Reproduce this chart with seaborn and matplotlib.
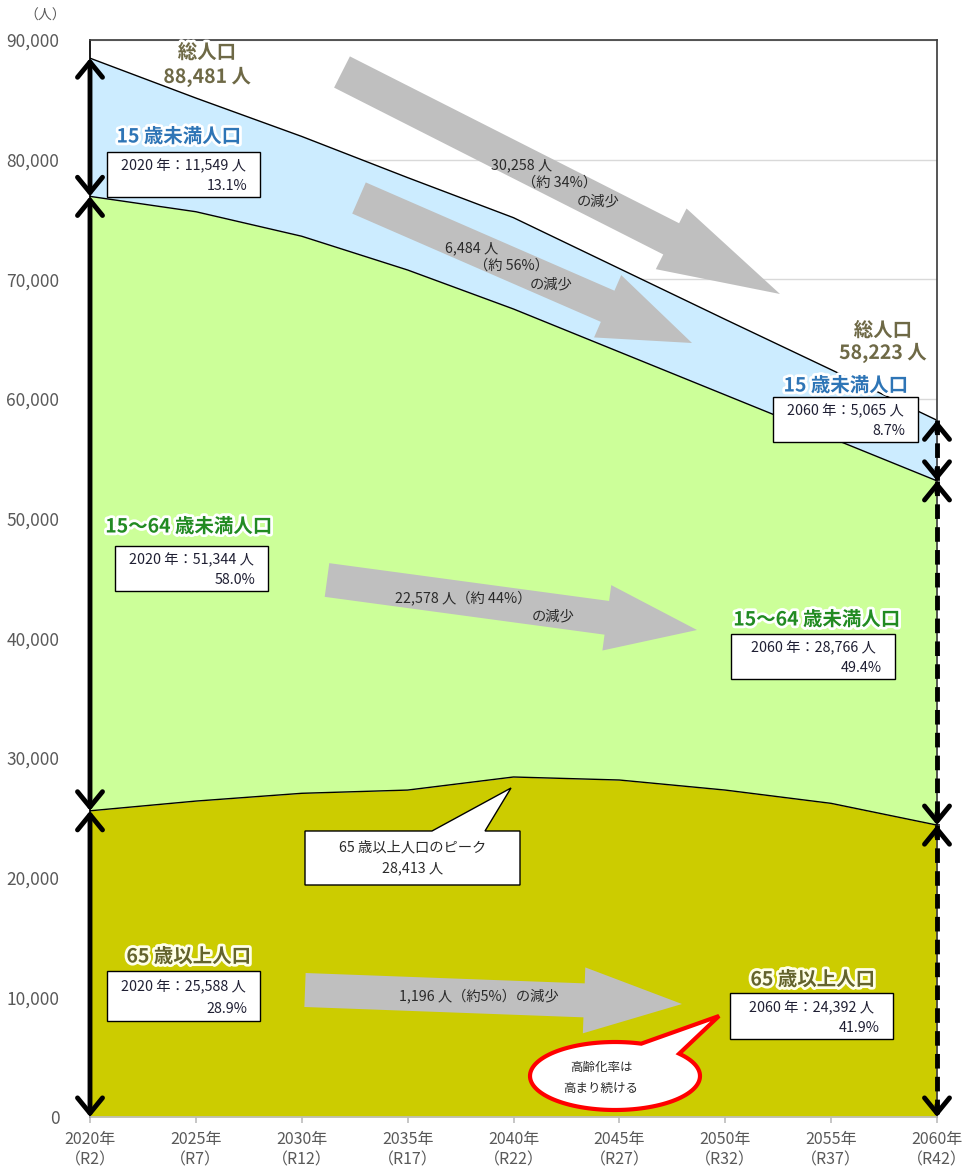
import numpy as np
import pandas as pd
import matplotlib
matplotlib.use("Agg")
import matplotlib.pyplot as plt
import matplotlib.patheffects as pe
from matplotlib.patches import Polygon, Rectangle
import seaborn as sns

# 年次と年齢3区分別人口
years = [2020, 2025, 2030, 2035, 2040, 2045, 2050, 2055, 2060]
pop_u15 = [11549, 9500, 8340, 7720, 7630, 6970, 6310, 5700, 5065]
pop_15_64 = [51344, 49250, 46550, 43460, 39107, 35770, 33020, 30540, 28766]
pop_65 = [25588, 26400, 27050, 27320, 28413, 28160, 27320, 26210, 24392]
y_ticks = list(range(0, 90001, 10000))

df = pd.DataFrame({"year": years, "u15": pop_u15, "mid": pop_15_64, "old": pop_65})
df["b_old"] = df["old"]
df["b_mid"] = df["old"] + df["mid"]
df["b_total"] = df["b_mid"] + df["u15"]

sns.set_theme(style="white")
plt.rcParams["font.family"] = ["Noto Sans CJK JP", "DejaVu Sans"]

W, H = 968, 1169
fig = plt.figure(figsize=(W / 100, H / 100), dpi=100)
ax = fig.add_axes([90 / W, 52 / H, 847 / W, 1077 / H])

# 積み上げ面
ax.fill_between(df["year"], 0, df["b_old"], color="#CCCC00", lw=0)
ax.fill_between(df["year"], df["b_old"], df["b_mid"], color="#CCFF99", lw=0)
ax.fill_between(df["year"], df["b_mid"], df["b_total"], color="#CCECFF", lw=0)
for col in ["b_old", "b_mid", "b_total"]:
    sns.lineplot(data=df, x="year", y=col, color="black", lw=1, ax=ax)

ax.set_xlim(years[0], years[-1])
ax.set_ylim(0, 90000)
ax.set_xticks(years)
ax.set_xticklabels([f"{y}年\n（R{y - 2018}）" for y in years], fontsize=11.5, color="#595959",
                   linespacing=1.3)
ax.set_yticks(y_ticks)
ax.set_yticklabels([f"{v:,}" for v in y_ticks], fontsize=12.5, color="#595959")
ax.set_xlabel("")
ax.set_ylabel("")
ax.yaxis.grid(True, color="#D9D9D9", lw=1)
ax.set_axisbelow(True)
ax.tick_params(axis="x", length=4, color="#BFBFBF", bottom=True, pad=6)
ax.tick_params(axis="y", length=0, pad=22)
ax.spines["top"].set_color("#404040")
ax.spines["right"].set_color("#404040")
ax.spines["left"].set_color("black")
ax.spines["bottom"].set_color("#BFBFBF")
fig.text(45 / W, 1 - 16 / H, "（人）", ha="center", va="center", fontsize=10, color="#595959")

# 両矢印
head = "head_length=0.55,head_width=0.45"


def v_arrow(x, y0, y1, dashed=False):
    if not dashed:
        ax.annotate("", xy=(x, y1), xytext=(x, y0), annotation_clip=False,
                    arrowprops=dict(arrowstyle="<->," + head, lw=3.5, color="black",
                                    shrinkA=0, shrinkB=0, mutation_scale=20))
    else:
        ax.plot([x, x], [y0, y1], color="black", lw=3.5, ls=(0, (3, 1.7)), clip_on=False,
                zorder=4)
        for ya, yb in [(y0, y1), (y1, y0)]:
            s = np.sign(yb - ya)
            ax.annotate("", xy=(x, yb), xytext=(x, yb - s * 1000), annotation_clip=False,
                        arrowprops=dict(arrowstyle="->," + head, lw=3.5, color="black",
                                        shrinkA=0, shrinkB=0, mutation_scale=20))


first, last = df.iloc[0], df.iloc[-1]
v_arrow(years[0], first["b_total"], first["b_mid"])
v_arrow(years[0], first["b_mid"], first["b_old"])
v_arrow(years[0], first["b_old"], 0)
v_arrow(years[-1], last["b_total"], last["b_mid"], dashed=True)
v_arrow(years[-1], last["b_mid"], last["b_old"], dashed=True)
v_arrow(years[-1], last["b_old"], 0, dashed=True)

# 注記用オーバーレイ（ピクセル座標）
ov = fig.add_axes([0, 0, 1, 1], zorder=5)
ov.set_xlim(0, W)
ov.set_ylim(H, 0)
ov.axis("off")
ov.set_facecolor("none")


def block_arrow(tail, tip, shaft_w, head_w, head_len):
    t = np.array(tail, float)
    p = np.array(tip, float)
    d = p - t
    u = d / np.hypot(*d)
    n = np.array([-u[1], u[0]])
    b = p - u * head_len
    pts = [t + n * shaft_w / 2, b + n * shaft_w / 2, b + n * head_w / 2, p,
           b - n * head_w / 2, b - n * shaft_w / 2, t - n * shaft_w / 2]
    ov.add_patch(Polygon(pts, closed=True, fc="#BFBFBF", ec="none"))


block_arrow((342, 72), (780, 294), 35, 68, 122)
block_arrow((359, 198), (692, 343), 34, 68, 92)
block_arrow((327, 580), (697, 630), 34, 66, 91)
block_arrow((305, 990), (682, 1004), 34, 66, 98)

tc = "#2a2a2a"
fs_a = 10.3


def txt(x, y, s, fs=fs_a, **kw):
    kw.setdefault("color", tc)
    ov.text(x, y, s, ha=kw.pop("ha", "center"), va="center", fontsize=fs, **kw)


d_total = first["b_total"] - last["b_total"]
d_u15 = pop_u15[0] - pop_u15[-1]
d_mid = pop_15_64[0] - pop_15_64[-1]
d_old = pop_65[0] - pop_65[-1]
txt(522, 165, f"{d_total:,.0f} 人")
txt(560, 183, f"（約 {d_total / first['b_total'] * 100:.0f}%）")
txt(598, 201, "の減少")
txt(472, 248, f"{d_u15:,} 人")
txt(511, 266, f"（約 {d_u15 / pop_u15[0] * 100:.0f}%）")
txt(551, 284, "の減少")
txt(463, 598, f"{d_mid:,} 人（約 {d_mid / pop_15_64[0] * 100:.0f}%）")
txt(553, 616, "の減少")
txt(479, 996, f"{d_old:,} 人（約{d_old / pop_65[0] * 100:.0f}%）の減少")


def glow(x, y, s, color, fs=14, g="white"):
    ov.text(x, y, s, ha="center", va="center", fontsize=fs, fontweight="bold", color=color,
            path_effects=[pe.withStroke(linewidth=4, foreground=g)])


olive = "#6E6946"
blue = "#2E75B6"
green = "#228B22"
old_c = "#63632C"
glow(207, 53, "総人口", olive)
glow(207, 77, f"{first['b_total']:,.0f} 人", olive)
glow(883, 331, "総人口", olive)
glow(883, 353, f"{last['b_total']:,.0f} 人", olive)
glow(179, 137, "15 歳未満人口", blue)
glow(846, 386, "15 歳未満人口", blue)
glow(189, 527, "15～64 歳未満人口", green)
glow(817, 620, "15～64 歳未満人口", green)
glow(189, 957, "65 歳以上人口", old_c, g="#FFFFE8")
glow(813, 980, "65 歳以上人口", old_c, g="#FFFFE8")


def info_box(x0, y0, x1, y1, year, value, total):
    ov.add_patch(Rectangle((x0, y0), x1 - x0, y1 - y0, fc="white", ec="black", lw=1))
    h = y1 - y0
    txt((x0 + x1) / 2, y0 + h * 0.32, f"{year} 年：{value:,} 人", fs=10.3, color="#1f1f33")
    txt(x1 - 13, y0 + h * 0.76, f"{value / total * 100:.1f}%", fs=10.3, color="#1f1f33", ha="right")


info_box(107, 152, 260, 197, years[0], pop_u15[0], first["b_total"])
info_box(773, 397, 918, 442, years[-1], pop_u15[-1], last["b_total"])
info_box(115, 546, 268, 591, years[0], pop_15_64[0], first["b_total"])
info_box(731, 634, 895, 679, years[-1], pop_15_64[-1], last["b_total"])
info_box(107, 971, 260, 1021, years[0], pop_65[0], first["b_total"])
info_box(730, 993, 893, 1039, years[-1], pop_65[-1], last["b_total"])

# ピーク吹き出し
peak = max(pop_65)
ov.add_patch(Polygon([(305, 831), (432, 831), (511, 788), (485, 831), (520, 831), (520, 885),
                      (305, 885)], closed=True, fc="white", ec="black", lw=1))
txt(413, 847, "65 歳以上人口のピーク", fs=10.3)
txt(413, 868, f"{peak:,} 人", fs=10.3)

# 高齢化率の吹き出し
cx, cy, a, b = 615, 1076, 85, 34
t = np.radians(np.linspace(-41, 288, 120))
pts = list(zip(cx + a * np.cos(t), cy + b * np.sin(t))) + [(719, 1016)]
ov.add_patch(Polygon(pts, closed=True, fc="white", ec="#FF0000", lw=3))
txt(601, 1067, "高齢化率は", fs=9)
txt(601, 1088, "高まり続ける", fs=9)

fig.savefig("out.png", dpi=100)
